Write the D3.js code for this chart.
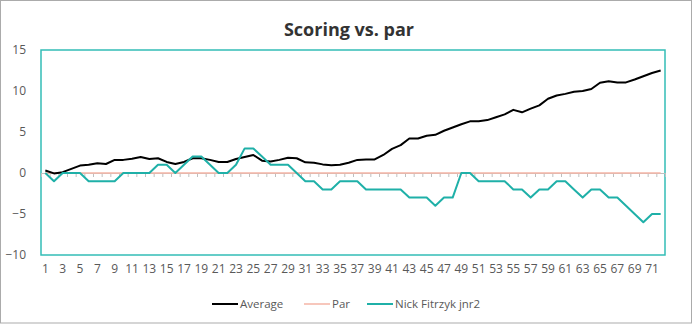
<!DOCTYPE html>
<html>
<head>
<meta charset="utf-8">
<script src="https://cdn.jsdelivr.net/npm/d3@7"></script>
<style>
  html, body { margin: 0; padding: 0; background: #fff; }
  svg { display: block; font-family: "Open Sans", "Noto Sans", sans-serif; }
</style>
</head>
<body>
<svg id="chart" width="697" height="325"></svg>
<script>
// Holes 1..72
const holes = d3.range(1, 73);

// Field average, cumulative vs. par
const average = [
  0.3, -0.05, 0.1, 0.5, 0.9, 1.0, 1.2, 1.1, 1.6, 1.6,
  1.75, 1.95, 1.7, 1.8, 1.35, 1.1, 1.35, 1.8, 1.8, 1.6,
  1.35, 1.35, 1.7, 1.95, 2.2, 1.5, 1.4, 1.6, 1.85, 1.8,
  1.3, 1.25, 1.05, 0.95, 1.0, 1.25, 1.6, 1.65, 1.65, 2.2,
  2.95, 3.4, 4.2, 4.2, 4.55, 4.65, 5.15, 5.55, 5.95, 6.3,
  6.3, 6.45, 6.8, 7.15, 7.7, 7.4, 7.85, 8.25, 9.05, 9.45,
  9.65, 9.9, 10.0, 10.25, 11.0, 11.2, 11.05, 11.05, 11.4, 11.8,
  12.2, 12.5
];

// Par reference line
const par = holes.map(() => 0);

// Nick Fitrzyk jnr2, cumulative vs. par
const nick = [
  0, -1, 0, 0, 0, -1, -1, -1, -1, 0,
  0, 0, 0, 1, 1, 0, 1, 2, 2, 1,
  0, 0, 1, 3, 3, 2, 1, 1, 1, 0,
  -1, -1, -2, -2, -1, -1, -1, -2, -2, -2,
  -2, -2, -3, -3, -3, -4, -3, -3, 0, 0,
  -1, -1, -1, -1, -2, -2, -3, -2, -2, -1,
  -1, -2, -3, -2, -2, -3, -3, -4, -5, -6,
  -5, -5
];

const yTicks = [-10, -5, 0, 5, 10, 15];
const xLabels = holes.filter(h => h % 2 === 1);

const series = [
  { name: "Average", values: average, color: "#000000", width: 2 },
  { name: "Par", values: par, color: "#F4B5A6", width: 1.5 },
  { name: "Nick Fitrzyk jnr2", values: nick, color: "#1FB0A8", width: 2 }
];

const svg = d3.select("#chart");
const plot = { left: 41, right: 665, top: 50, bottom: 255 };

// outer chart frame
svg.append("rect")
  .attr("x", 0.5).attr("y", 0.5)
  .attr("width", 691).attr("height", 322.5)
  .attr("fill", "#fff").attr("stroke", "#ABABAB").attr("stroke-width", 1);

const x = d3.scaleBand().domain(holes).range([plot.left, plot.right]).paddingInner(0).paddingOuter(0);
const xEdge = d3.scaleLinear().domain([0, holes.length]).range([plot.left, plot.right]);
const y = d3.scaleLinear().domain([-10, 15]).range([plot.bottom, plot.top]);
const cx = h => x(h) + x.bandwidth() / 2;

// title
svg.append("text")
  .attr("x", 349).attr("y", 36)
  .attr("text-anchor", "middle")
  .attr("font-size", 18).attr("font-weight", "bold")
  .attr("fill", "#333")
  .text("Scoring vs. par");

// plot frame
svg.append("rect")
  .attr("x", plot.left).attr("y", plot.top)
  .attr("width", plot.right - plot.left).attr("height", plot.bottom - plot.top)
  .attr("fill", "none").attr("stroke", "#33BDB6").attr("stroke-width", 1.5);

// y axis labels
const yAxis = d3.axisLeft(y).tickValues(yTicks).tickSize(0).tickPadding(0).tickFormat(d3.format("d"));
const gy = svg.append("g").attr("transform", `translate(${plot.left - 15},0)`).call(yAxis);
gy.select(".domain").remove();
gy.selectAll("text").attr("font-size", 12).attr("fill", "#595959")
  .attr("font-family", "'Open Sans', 'Noto Sans', sans-serif");

// category tick marks along the zero line
const tickAxis = d3.axisBottom(xEdge).tickValues(d3.range(0, holes.length + 1)).tickSize(4).tickFormat("");
const gt = svg.append("g").attr("transform", `translate(0,${y(0)})`).call(tickAxis);
gt.select(".domain").attr("stroke", "#BFBFBF");
gt.selectAll(".tick line").attr("stroke", "#BFBFBF");

// hole labels at the bottom
const xAxis = d3.axisBottom(x).tickValues(xLabels).tickSize(0).tickPadding(9);
const gx = svg.append("g").attr("transform", `translate(0,${plot.bottom})`).call(xAxis);
gx.select(".domain").remove();
gx.selectAll("text").attr("font-size", 12).attr("fill", "#595959")
  .attr("font-family", "'Open Sans', 'Noto Sans', sans-serif");

// series lines
const line = d3.line().x((d, i) => cx(holes[i])).y(d => y(d));
[series[1], series[0], series[2]].forEach(s => {
  svg.append("path")
    .datum(s.values)
    .attr("d", line)
    .attr("fill", "none")
    .attr("stroke", s.color)
    .attr("stroke-width", s.width)
    .attr("stroke-linejoin", "round");
});

// legend
const legendX = [212, 304, 367];
const lg = svg.append("g").attr("transform", "translate(0,304)");
series.forEach((s, i) => {
  const g = lg.append("g").attr("transform", `translate(${legendX[i]},0)`);
  g.append("line").attr("x1", 0).attr("x2", 26).attr("y1", 0).attr("y2", 0)
    .attr("stroke", s.color).attr("stroke-width", s.width);
  g.append("text").attr("x", 28).attr("y", 0).attr("dy", "0.35em")
    .attr("font-size", 11.5).attr("fill", "#595959").text(s.name);
});
</script>
</body>
</html>
